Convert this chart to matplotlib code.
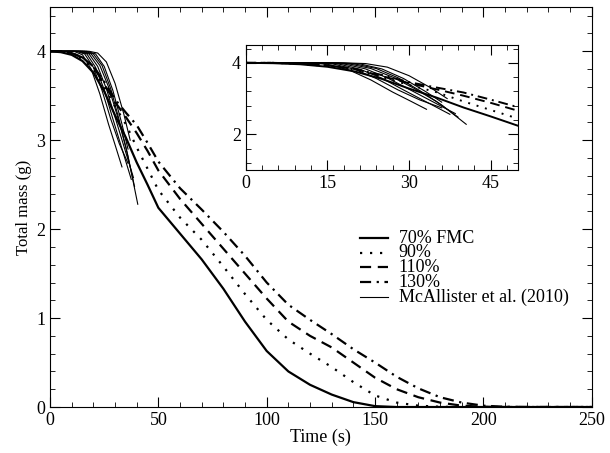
import matplotlib
matplotlib.use("Agg")
import matplotlib.pyplot as plt
from matplotlib.ticker import MultipleLocator

plt.rcParams['font.family'] = ['Liberation Serif', 'DejaVu Serif']
plt.rcParams['font.size'] = 13

# model runs (s, g)
t = [0, 5, 10, 15, 20, 25, 30, 35, 40, 45, 50, 60, 70, 80, 90, 100, 110,
     120, 130, 140, 150, 160, 170, 180, 190, 200, 210, 220, 250]
fmc70 = [4, 3.99, 3.96, 3.89, 3.76, 3.55, 3.28, 3.03, 2.75, 2.50, 2.24, 1.95,
         1.66, 1.33, 0.96, 0.63, 0.40, 0.25, 0.14, 0.055, 0.01, 0, 0, 0, 0, 0,
         0, 0, 0]
fmc90 = [4, 4, 3.97, 3.91, 3.80, 3.60, 3.38, 3.18, 2.92, 2.68, 2.44, 2.13,
         1.88, 1.58, 1.27, 0.98, 0.76, 0.60, 0.45, 0.28, 0.13, 0.05, 0.015,
         0.003, 0, 0, 0, 0, 0]
fmc110 = [4, 4, 3.98, 3.93, 3.83, 3.63, 3.43, 3.26, 3.08, 2.88, 2.66, 2.34,
          2.06, 1.78, 1.50, 1.22, 0.96, 0.80, 0.67, 0.50, 0.33, 0.20, 0.11,
          0.05, 0.015, 0.003, 0, 0, 0]
fmc130 = [4, 4, 3.98, 3.93, 3.83, 3.66, 3.46, 3.31, 3.17, 2.97, 2.76, 2.46,
          2.22, 1.97, 1.70, 1.40, 1.15, 0.98, 0.82, 0.65, 0.50, 0.34, 0.21,
          0.11, 0.05, 0.015, 0.003, 0, 0]

# McAllister et al. (2010) measurements
mc_t = [
    [0, 11, 15, 19, 23, 27, 30, 33.2],
    [0, 12, 16, 20, 24, 28, 32, 36],
    [0, 13, 17, 21, 25, 29, 33, 37.5],
    [0, 14, 18, 22, 26, 30, 34, 38.5],
    [0, 15, 19, 23, 27, 31, 35, 39],
    [0, 16, 20, 24, 28, 32, 36, 40.5],
    [0, 17, 21, 25, 29, 33, 36],
    [0, 18, 22, 26, 30, 34, 37],
]
mc_m = [
    [4, 4, 3.96, 3.80, 3.52, 3.18, 2.95, 2.70],
    [4, 4, 3.97, 3.82, 3.56, 3.24, 2.96, 2.74],
    [4, 4, 3.97, 3.82, 3.57, 3.24, 2.92, 2.56],
    [4, 4, 3.97, 3.83, 3.58, 3.26, 2.94, 2.58],
    [4, 4, 3.97, 3.84, 3.60, 3.28, 2.92, 2.48],
    [4, 4, 3.97, 3.84, 3.58, 3.22, 2.82, 2.28],
    [4, 4, 3.97, 3.83, 3.56, 3.20, 2.90],
    [4, 4, 3.98, 3.88, 3.64, 3.30, 3.00],
]

labels = ['70% FMC', '90%', '110%', '130%', 'McAllister et al. (2010)']

styles = [dict(ls='-'), dict(ls=(0, (1, 3.5))), dict(ls=(0, (5, 3))),
          dict(ls=(0, (5, 2.5, 1, 2.5)))]


def draw(ax, lw):
    for y, st in zip([fmc70, fmc90, fmc110, fmc130], styles):
        ax.plot(t, y, color='k', lw=lw, **st)
    for tt, mm in zip(mc_t, mc_m):
        ax.plot(tt, mm, 'k-', lw=0.8)


def style(ax):
    ax.tick_params(which='both', direction='in', top=True, right=True)
    ax.tick_params(which='major', length=7)
    ax.tick_params(which='minor', length=3.5)


fig = plt.figure(figsize=(6.1, 4.53), dpi=100)
ax = fig.add_axes([0.082, 0.1015, 0.888, 0.8835])
draw(ax, 1.6)
ax.set_xlim(0, 250)
ax.set_ylim(0, 4.5)
ax.xaxis.set_major_locator(MultipleLocator(50))
ax.xaxis.set_minor_locator(MultipleLocator(10))
ax.yaxis.set_major_locator(MultipleLocator(1))
ax.yaxis.set_minor_locator(MultipleLocator(0.2))
style(ax)
ax.set_xlabel('Time (s)', labelpad=0, fontsize=13)
ax.set_ylabel('Total mass (g)', labelpad=3, fontsize=12)

# legend drawn by hand so the rows can sit as tight as in the original
row0, step = 0.4225, 0.0368
for i, lab in enumerate(labels):
    yy = row0 - i * step
    if i < 4:
        ax.plot([0.572, 0.624], [yy, yy], color='k', lw=1.6,
                transform=ax.transAxes, **styles[i])
    else:
        ax.plot([0.572, 0.624], [yy, yy], 'k-', lw=0.8, transform=ax.transAxes)
    ax.text(0.644, yy - 0.012, lab, transform=ax.transAxes, fontsize=13,
            va='baseline', ha='left')

ins = fig.add_axes([0.403, 0.6247, 0.446, 0.276])
draw(ins, 1.4)
ins.set_xlim(0, 50)
ins.set_ylim(1, 4.5)
ins.xaxis.set_major_locator(MultipleLocator(15))
ins.xaxis.set_minor_locator(MultipleLocator(3))
ins.yaxis.set_major_locator(MultipleLocator(2))
ins.yaxis.set_minor_locator(MultipleLocator(0.4))
style(ins)

fig.savefig('out.png', dpi=100)
